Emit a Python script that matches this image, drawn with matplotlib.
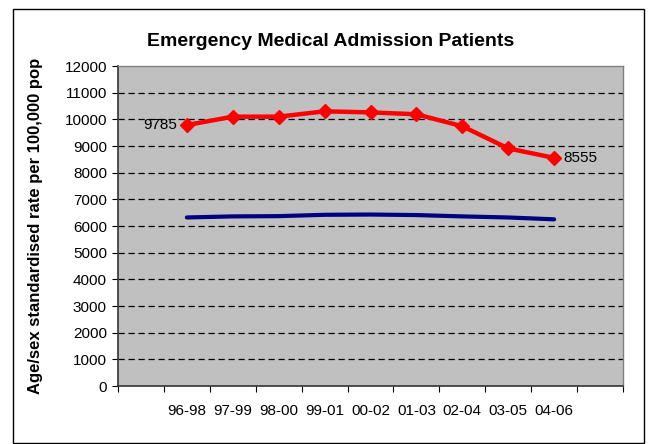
import matplotlib
matplotlib.use("Agg")
import matplotlib.pyplot as plt
from matplotlib.patches import Rectangle
import numpy as np

plt.rcParams['font.family'] = ['Liberation Sans', 'DejaVu Sans']

categories = ['', '96-98', '97-99', '98-00', '99-01', '00-02', '01-03', '02-04', '03-05', '04-06', '']
periods = ['96-98', '97-99', '98-00', '99-01', '00-02', '01-03', '02-04', '03-05', '04-06']
red_values = [9785, 10100, 10100, 10300, 10260, 10190, 9740, 8910, 8555]
blue_values = [6320, 6360, 6370, 6420, 6430, 6410, 6360, 6320, 6250]
y_ticks = [0, 1000, 2000, 3000, 4000, 5000, 6000, 7000, 8000, 9000, 10000, 11000, 12000]

W, H = 648, 444
fig = plt.figure(figsize=(W / 100, H / 100), dpi=100)
fig.patch.set_facecolor('white')

# outer chart border
fig.add_artist(Rectangle((13 / W, 1.5 / H), (644 - 13) / W, (442.5 - 9) / H,
                         transform=fig.transFigure, fill=False,
                         edgecolor='black', linewidth=1.0))

ax = fig.add_axes([118 / W, 1 - 386 / H, (623 - 118) / W, (386 - 66) / H])
ax.set_facecolor('#C0C0C0')

xpos = {c: i + 0.5 for i, c in enumerate(categories) if c}
xs = [xpos[p] for p in periods]

# gridlines
for v in y_ticks[1:-1]:
    ax.axhline(v, color='black', linewidth=0.9, dashes=(5, 3), zorder=1)

ax.plot(xs, blue_values, color='#000080', linewidth=3.0, solid_capstyle='round',
        solid_joinstyle='round', zorder=3)
ax.plot(xs, red_values, color='#FF0000', linewidth=3.2, marker='D', markersize=7.5,
        markeredgecolor='#FF0000', markerfacecolor='#FF0000', zorder=4)

ax.annotate(f'{red_values[0]}', (xs[0], red_values[0]), xytext=(-7, 0),
            textcoords='offset points', ha='right', va='center', fontsize=11)
ax.annotate(f'{red_values[-1]}', (xs[-1], red_values[-1]), xytext=(7, 0),
            textcoords='offset points', ha='left', va='center', fontsize=11)

ax.set_xlim(0, len(categories))
ax.set_ylim(0, 12000)
ax.set_yticks(y_ticks)
ax.set_yticklabels([str(v) for v in y_ticks], fontsize=11)
ax.set_xticks(np.arange(0, len(categories) + 1))
ax.set_xticklabels([])
ax.set_xticks(np.arange(len(categories)) + 0.5, minor=True)
ax.set_xticklabels(categories, minor=True, fontsize=11)
ax.tick_params(axis='x', which='minor', length=0, pad=13)
ax.tick_params(axis='x', which='major', length=4, direction='out', color='black')
ax.tick_params(axis='y', length=4, direction='out', color='black', pad=4)

for s in ['top', 'right']:
    ax.spines[s].set_color('#808080')
    ax.spines[s].set_linewidth(1.0)
for s in ['left', 'bottom']:
    ax.spines[s].set_color('#333333')
    ax.spines[s].set_linewidth(1.2)

ax.set_ylabel('Age/sex standardised rate per 100,000 pop', fontsize=12,
              fontweight='bold')
ax.yaxis.set_label_coords(-0.148, 0.5)

fig.text(331 / W, 1 - 42 / H, 'Emergency Medical Admission Patients',
         ha='center', va='center', fontsize=14, fontweight='bold')

fig.savefig('out.png', dpi=100)
